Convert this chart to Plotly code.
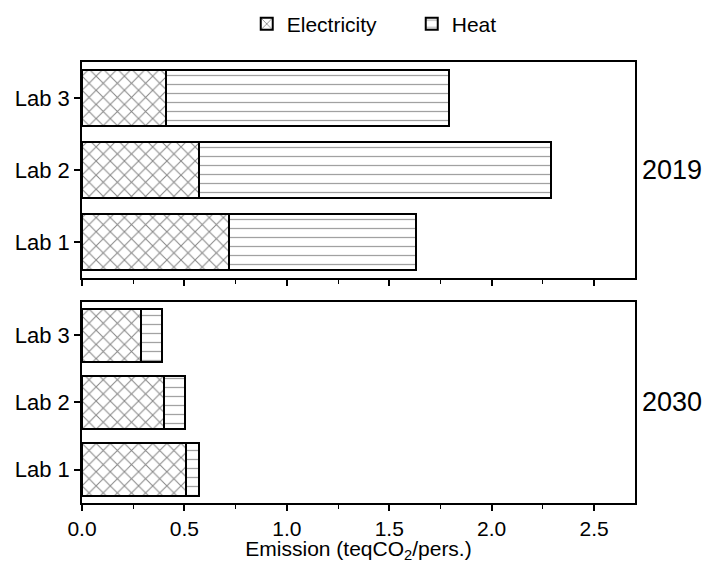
import plotly.graph_objects as go

labs = ["Lab 1", "Lab 2", "Lab 3"]
elec_2019 = [0.72, 0.57, 0.41]
heat_2019 = [0.91, 1.72, 1.38]
elec_2030 = [0.51, 0.40, 0.29]
heat_2030 = [0.06, 0.105, 0.10]
years = ["2019", "2030"]
x_ticks = [0.0, 0.5, 1.0, 1.5, 2.0, 2.5]

FONT = "Arial, Liberation Sans, sans-serif"
elec_style = dict(color="white", line=dict(color="black", width=2),
                  pattern=dict(shape="x", fgcolor="#111", bgcolor="white", size=10, solidity=0.2))
heat_style = dict(color="white", line=dict(color="black", width=2),
                  pattern=dict(shape="-", fgcolor="#444", bgcolor="white", size=9, solidity=0.14))

fig = go.Figure()
fig.add_trace(go.Bar(y=labs, x=elec_2019, orientation="h", name="Electricity", marker=elec_style,
                     xaxis="x2", yaxis="y2", width=0.79, legendgroup="e"))
fig.add_trace(go.Bar(y=labs, x=heat_2019, orientation="h", name="Heat", marker=heat_style,
                     xaxis="x2", yaxis="y2", width=0.79, legendgroup="h"))
fig.add_trace(go.Bar(y=labs, x=elec_2030, orientation="h", name="Electricity", marker=elec_style,
                     xaxis="x", yaxis="y", width=0.79, legendgroup="e", showlegend=False))
fig.add_trace(go.Bar(y=labs, x=heat_2030, orientation="h", name="Heat", marker=heat_style,
                     xaxis="x", yaxis="y", width=0.79, legendgroup="h", showlegend=False))

top_dom = [0.5102, 1.0]
bot_dom = [0.0, 0.4558]
XR = [0, 2.7]
YR = [-0.5, 2.5]

common_x = dict(range=XR, showline=True, linecolor="black", linewidth=1.5, mirror=True,
                ticks="outside", ticklen=6, tickwidth=1.5, tickcolor="black",
                tickvals=x_ticks, showgrid=False, zeroline=False, automargin=False,
                minor=dict(dtick=0.25, tick0=0, ticks="outside", ticklen=4, tickcolor="black", tickwidth=1.2, showgrid=False))
common_y = dict(type="category", categoryorder="array", categoryarray=labs, range=YR,
                showline=True, linecolor="black", linewidth=1.5, mirror=True, automargin=False,
                ticks="outside", ticklen=6, tickwidth=1.5, tickcolor="black", showgrid=False,
                tickfont=dict(size=22, color="black"))

grid_y = dict(range=YR, tickvals=[-0.5, 0.5, 1.5, 2.5], ticks="outside", ticklen=4, tickwidth=1.2,
              tickcolor="black", showticklabels=False, showgrid=True, gridcolor="#c8c8c8",
              griddash="dot", gridwidth=1, zeroline=False, showline=False, automargin=False)
right_y = dict(range=YR, tickvals=[-0.5, 0, 0.5, 1, 1.5, 2, 2.5], ticks="inside", ticklen=6, tickwidth=1.2,
               tickcolor="black", showticklabels=False, showgrid=False, zeroline=False, showline=False,
               side="right", automargin=False)
top_x = dict(range=XR, dtick=0.25, tick0=0, ticks="inside", ticklen=6, tickwidth=1.2, tickcolor="black",
             showticklabels=False, showgrid=False, zeroline=False, showline=False, side="top", automargin=False)

fig.update_layout(
    width=707, height=563,
    margin=dict(l=82, r=72, t=62, b=60),
    paper_bgcolor="white", plot_bgcolor="white",
    font=dict(family=FONT, size=20, color="black"),
    barmode="stack", bargap=0.21,
    showlegend=True,
    legend=dict(orientation="h", x=0.349, xanchor="left", xref="container",
                y=0.957, yanchor="middle", yref="container",
                entrywidth=120, entrywidthmode="pixels",
                font=dict(size=21), itemsizing="constant", traceorder="normal"),
    xaxis=dict(**common_x, anchor="y", domain=[0, 1], tickformat=".1f",
               tickfont=dict(size=21, color="black"),
               title=dict(text="Emission (teqCO<sub>2</sub>/pers.)", font=dict(size=21), standoff=4)),
    xaxis2=dict(**common_x, anchor="y2", domain=[0, 1], matches="x", showticklabels=False),
    yaxis=dict(**common_y, anchor="x", domain=bot_dom),
    yaxis2=dict(**common_y, anchor="x2", domain=top_dom),
    yaxis3=dict(**grid_y, overlaying="y", anchor="x"),
    yaxis4=dict(**grid_y, overlaying="y2", anchor="x2"),
    yaxis5=dict(**right_y, overlaying="y", anchor="x"),
    yaxis6=dict(**right_y, overlaying="y2", anchor="x2"),
    xaxis3=dict(**top_x, overlaying="x", anchor="y"),
    xaxis4=dict(**top_x, overlaying="x2", anchor="y2"),
)

for yr, dom in zip(years, [top_dom, bot_dom]):
    fig.add_annotation(text=yr, xref="paper", yref="paper", x=1.0, y=(dom[0] + dom[1]) / 2,
                       xanchor="left", yanchor="middle", xshift=5, showarrow=False,
                       font=dict(size=27, color="black"))

fig.write_html("out.html", config={"displayModeBar": False},
               post_script="document.body.style.margin='0';")
